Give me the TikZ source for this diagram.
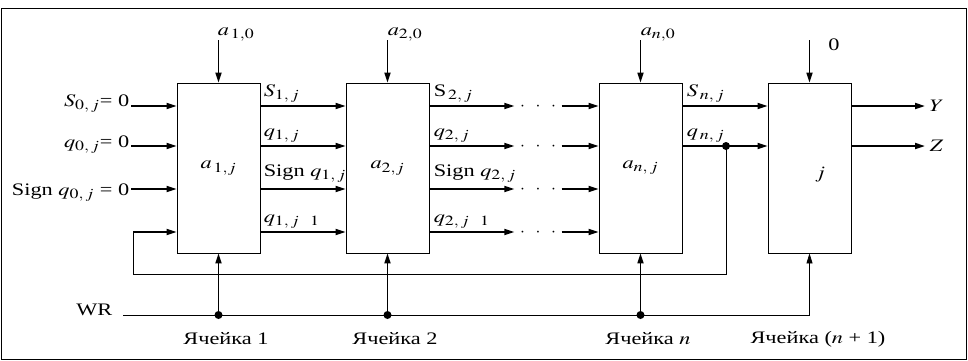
\documentclass[tikz,border=0pt]{standalone}
\usepackage{graphicx}
\usepackage{mathptmx}
\usepackage{fontspec}
\setmainfont{Liberation Serif}
\usetikzlibrary{arrows.meta,positioning,calc}

\DeclareMathSizes{15}{15}{12}{10}
\newcommand{\wide}[1]{\scalebox{1.27}[1]{#1}}

\begin{document}
\begin{tikzpicture}[x=0.03cm, y=-0.03cm,
    font=\fontsize{15}{17}\selectfont,
    cell/.style={draw, line width=0.7pt, minimum width=2.49cm, minimum height=5.1cm, inner sep=0pt},
    sig/.style={-{Triangle[length=3mm,width=1.8mm]}, line width=1.4pt},
    wire/.style={line width=0.7pt},
    lbl/.style={inner sep=1pt, xscale=1.27},
    dots/.style={minimum width=1.4cm, inner sep=0pt},
    junc/.style={circle, fill, inner sep=0pt, minimum size=2.4mm}
  ]
\useasboundingbox (0,0) rectangle (968,361);
\draw[wire] (1.5,8) rectangle (966.5,359.5);

% ячейки
\node[cell] (c1) at (218.5,168) {\wide{$a_{\,1,j}$}};
\node[cell] (c2) at (387.5,168) {\wide{$a_{2,j}$}};
\node[cell] (c3) at (640.5,168) {\wide{$a_{n,\,j}$}};
\node[cell] (c4) at (809.5,168) {};
\node[lbl] (c4j) at (820,175) {$j$};

% строки сигналов
\coordinate (top) at (0,40);
\foreach \y [count=\i] in {106,146,189,232} {
  \coordinate (r\i) at (0,\y);
  \node[dots] (d\i) at (538,\y) {\smash{\raisebox{-3.5pt}{$\cdot\hspace{7pt}\cdot\hspace{7pt}\cdot$}}};
}

% входы первой ячейки
\node[lbl, anchor=base east] (in1) at (131,106) {$S_{0,\,j}$= 0};
\node[lbl, anchor=base east] (in2) at (131,147) {$q_{0,\,j}$= 0};
\node[lbl, anchor=base east] (in3) at (131,195) {Sign $q_{0,\,j}$ = 0};
\draw[sig] (in1.east |- r1) -- (c1.west |- r1);
\draw[sig] (in2.east |- r2) -- (c1.west |- r2);
\draw[sig] (in3.east |- r3) -- (c1.west |- r3);

% связи между ячейками
\foreach \i in {1,...,4} {
  \draw[sig] (c1.east |- r\i) -- (c2.west |- r\i);
  \draw[sig] (c2.east |- r\i) -- (d\i.west);
  \draw[sig] (d\i.east) -- (c3.west |- r\i);
}
\draw[sig] (c3.east |- r1) -- (c4.west |- r1);
\draw[sig] (c3.east |- r2) -- (c4.west |- r2);

% подписи выходов
\node[lbl, anchor=south west] (s1) at (262,104) {$S_{1,\,j}$};
\node[lbl, anchor=south west] (q1) at (262,144) {$q_{1,\,j}$};
\node[lbl, anchor=south west] (g1) at (262,184) {Sign $q_{1,\,j}$};
\node[lbl, anchor=south west] (p1) at (262,230) {$q_{1,\,j\ \ 1}$};
\node[lbl, anchor=south west] (s2) at (432,104) {S$_{\,2,\,j}$};
\node[lbl, anchor=south west] (q2) at (432,144) {$q_{2,\,j}$};
\node[lbl, anchor=south west] (g2) at (432,184) {Sign $q_{2,\,j}$};
\node[lbl, anchor=south west] (p2) at (432,230) {$q_{2,\,j\ \ 1}$};
\node[lbl, anchor=south west] (sn) at (685,104) {$S_{\,n,\,j}$};
\node[lbl, anchor=south west] (qn) at (685,144) {$q_{\,n,\,j}$};

% обратная связь
\node[junc] (fb) at (726,146) {};
\coordinate (fbc) at (133,274);
\coordinate (fbin) at (133,232);
\draw[wire] (fb.center) |- (fbc) -- (fbin);
\draw[sig] (fbin) -- (c1.west |- fbin);

% входы сверху
\foreach \c in {c1,c2,c3,c4}
  \draw[sig] (\c.north |- top) -- (\c.north);
\node[lbl, anchor=base west] (a10) at (216,35) {$a_{\,1,0}$};
\node[lbl, anchor=base west] (a20) at (386,35) {$a_{2,0}$};
\node[lbl, anchor=base west] (an0) at (639,35) {$a_{n,0}$};
\node[lbl] (z0) at (834,45) {0};

% выходы
\node[lbl, anchor=west, inner sep=3pt] (outy) at (925,106) {$Y$};
\node[lbl, anchor=west, inner sep=3pt] (outz) at (925,146) {$Z$};
\draw[sig] (c4.east |- r1) -- (outy.west);
\draw[sig] (c4.east |- r2) -- (outz.west);

% шина WR
\node[lbl, anchor=base east] (wr) at (114,315) {WR};
\coordinate (wrs) at (123,315);
\draw[wire, -{Triangle[length=3mm,width=1.8mm]}] (wrs) -| (c4.south);
\foreach \c in {c1,c2,c3} {
  \node[junc] (w\c) at (\c.south |- wrs) {};
  \draw[sig] (w\c.center) -- (\c.south);
}

% подписи ячеек
\node[lbl] (n1) at (226,339) {Ячейка 1};
\node[lbl] (n2) at (395,339) {Ячейка 2};
\node[lbl] (nn) at (648,339) {Ячейка $n$};
\node[lbl] (nm) at (818,339) {Ячейка ($n$ + 1)};
\end{tikzpicture}
\end{document}
